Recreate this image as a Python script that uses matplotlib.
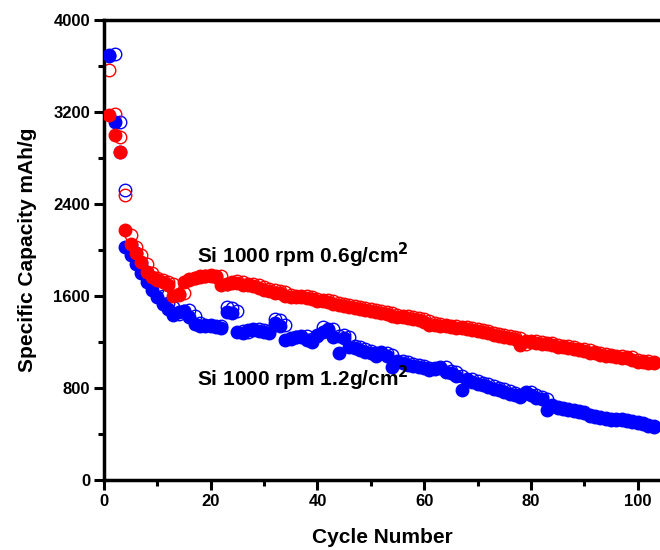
import matplotlib
matplotlib.use('Agg')
import matplotlib.pyplot as plt
import numpy as np
from matplotlib.ticker import MultipleLocator

# Cycle numbers
cycles = np.arange(1, 104)

# Si 1000 rpm 0.6 g/cm2 (red) - filled = discharge, open = charge
red_filled = [3175, 3000, 2850, 2174, 2052, 1974, 1896, 1809, 1765, 1739,
              1722, 1696, 1600, 1610, 1720, 1745, 1757, 1765, 1774, 1770,
              1765, 1696, 1700, 1722, 1713, 1696, 1696, 1690, 1670, 1652,
              1640, 1630, 1626, 1600, 1591, 1591, 1591, 1580, 1570, 1560,
              1555, 1545, 1530, 1522, 1515, 1505, 1495, 1490, 1480, 1470,
              1460, 1452, 1445, 1430, 1420, 1415, 1409, 1400, 1390, 1375,
              1350, 1345, 1340, 1335, 1330, 1325, 1322, 1315, 1305, 1295,
              1287, 1275, 1262, 1250, 1244, 1235, 1225, 1174, 1205, 1200,
              1195, 1185, 1180, 1170, 1160, 1155, 1145, 1135, 1130, 1120,
              1104, 1100, 1090, 1080, 1075, 1070, 1065, 1060, 1040, 1026,
              1030, 1020, 1017]
red_open = [3567, 3180, 2985, 2478, 2130, 2026, 1957, 1880, 1800, 1760,
            1740, 1725, 1700, 1620, 1625, 1740, 1760, 1770, 1778, 1785,
            1778, 1770, 1705, 1710, 1730, 1720, 1705, 1700, 1695, 1680,
            1660, 1650, 1640, 1635, 1610, 1600, 1600, 1598, 1588, 1578,
            1568, 1562, 1552, 1538, 1530, 1522, 1512, 1502, 1497, 1487,
            1477, 1467, 1460, 1452, 1437, 1427, 1422, 1416, 1407, 1397,
            1382, 1362, 1352, 1347, 1342, 1337, 1332, 1330, 1322, 1312,
            1302, 1295, 1282, 1270, 1257, 1250, 1242, 1232, 1182, 1212,
            1207, 1202, 1192, 1187, 1177, 1167, 1162, 1152, 1142, 1137,
            1127, 1112, 1107, 1097, 1087, 1082, 1077, 1072, 1067, 1047,
            1033, 1037, 1027]

# Si 1000 rpm 1.2 g/cm2 (blue)
blue_filled = [3696, 3113, 2852, 2030, 1960, 1880, 1800, 1720, 1650, 1590,
               1530, 1490, 1435, 1461, 1470, 1420, 1360, 1339, 1339, 1335,
               1330, 1322, 1461, 1452, 1287, 1278, 1300, 1304, 1295, 1285,
               1278, 1365, 1340, 1217, 1235, 1244, 1244, 1220, 1200, 1250,
               1290, 1304, 1240, 1104, 1235, 1157, 1148, 1130, 1115, 1100,
               1075, 1100, 1080, 983, 1026, 1017, 1000, 990, 983, 970,
               960, 965, 974, 940, 930, 900, 783, 870, 850, 835,
               826, 810, 795, 783, 765, 750, 735, 722, 757, 735,
               713, 700, 609, 640, 630, 615, 605, 598, 591, 580,
               560, 550, 540, 530, 522, 522, 522, 515, 505, 496,
               485, 470, 461]
blue_open = [3690, 3700, 3110, 2522, 2040, 1970, 1890, 1810, 1730, 1660,
             1600, 1540, 1500, 1445, 1470, 1478, 1428, 1368, 1347, 1347,
             1343, 1338, 1500, 1496, 1470, 1295, 1287, 1310, 1312, 1303,
             1293, 1400, 1390, 1350, 1225, 1243, 1252, 1252, 1228, 1260,
             1330, 1315, 1312, 1248, 1261, 1243, 1165, 1156, 1138, 1123,
             1108, 1110, 1108, 1088, 1034, 1034, 1025, 1008, 998, 991,
             978, 970, 982, 980, 948, 938, 908, 880, 878, 858,
             843, 834, 818, 803, 791, 773, 758, 743, 762, 765,
             743, 721, 708, 648, 638, 623, 613, 606, 599, 588,
             568, 558, 548, 538, 530, 530, 530, 523, 513, 504,
             493, 478, 469]

plt.rcParams['font.family'] = ['Liberation Sans', 'DejaVu Sans']
plt.rcParams['font.weight'] = 'bold'

fig = plt.figure(figsize=(6.6, 5.5), dpi=100)
ax = fig.add_axes([0.1576, 0.1273, 0.8424, 0.8364])

ms = 9
# open (charge) circles go underneath the filled (discharge) ones
ax.plot(cycles, blue_open, 'o', ms=ms, mfc='none', mec='#0000ff', mew=1.0, zorder=2)
ax.plot(cycles, red_open, 'o', ms=ms, mfc='none', mec='#ff0000', mew=1.0, zorder=2)
ax.plot(cycles, blue_filled, 'o', ms=ms, color='#0000ff', mec='#0000ff', zorder=3)
ax.plot(cycles, red_filled, 'o', ms=ms, color='#ff0000', mec='#ff0000', zorder=4)

ax.set_xlim(0, 104.2)
ax.set_ylim(0, 4000)
ax.xaxis.set_major_locator(MultipleLocator(20))
ax.xaxis.set_minor_locator(MultipleLocator(10))
ax.yaxis.set_major_locator(MultipleLocator(800))
ax.yaxis.set_minor_locator(MultipleLocator(400))

ax.spines['right'].set_visible(False)
for s in ['left', 'bottom', 'top']:
    ax.spines[s].set_linewidth(2.5)
ax.tick_params(which='major', direction='out', length=7, width=2.2, labelsize=12, pad=3)
ax.tick_params(which='minor', direction='out', length=4, width=2.2)
ax.tick_params(top=False, which='both')

ax.set_xlabel('Cycle Number', fontsize=15, fontweight='bold', labelpad=14)
ax.set_ylabel('Specific Capacity mAh/g', fontsize=15, fontweight='bold', labelpad=12)

ax.text(17.4, 1957, 'Si 1000 rpm 0.6g/cm$^\\mathbf{2}$', fontsize=15, fontweight='bold', va='center')
ax.text(17.4, 887, 'Si 1000 rpm 1.2g/cm$^\\mathbf{2}$', fontsize=15, fontweight='bold', va='center')

plt.savefig('out.png', dpi=100)
